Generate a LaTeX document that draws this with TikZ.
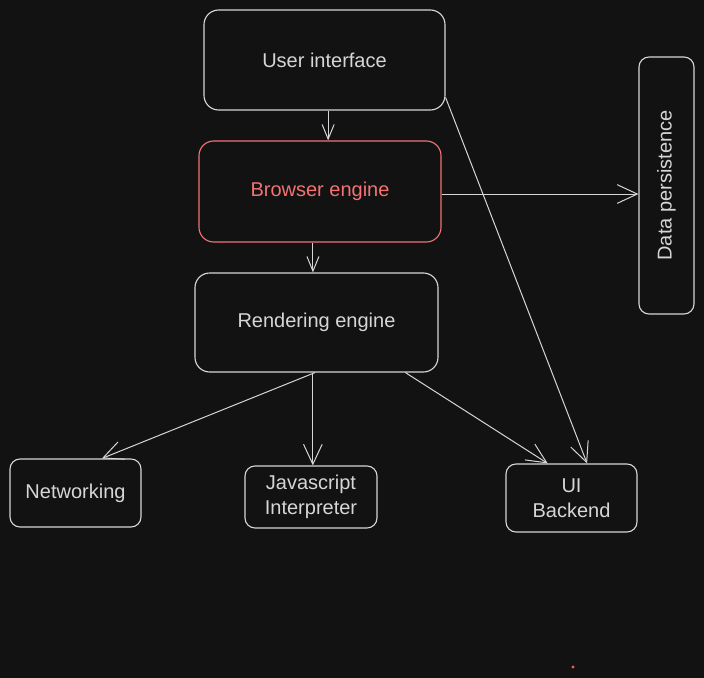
\documentclass[tikz,border=0pt]{standalone}
\usepackage{fontspec}
\setmainfont{Liberation Sans}
\usetikzlibrary{arrows.meta,calc}
\definecolor{bg}{HTML}{121212}
\definecolor{ink}{HTML}{D6D6D6}
\definecolor{redink}{HTML}{F47272}
\definecolor{dotc}{HTML}{E8634A}
\tikzset{
  box/.style={draw=ink, line width=0.85pt, text=ink, rounded corners=11pt, font=\fontsize{15}{19}\selectfont, align=center, inner sep=0pt},
  smallbox/.style={box, rounded corners=7.5pt},
  arr/.style={draw=ink, line width=0.75pt, -{Straight Barb[length=11pt,width=9pt,line width=0.75pt]}},
  arrbig/.style={draw=ink, line width=0.75pt, -{Straight Barb[length=15pt,width=14pt,line width=0.75pt]}},
}
\begin{document}
\begin{tikzpicture}[x=0.75pt,y=-0.75pt]
\fill[bg] (0,0) rectangle (704,678);
\useasboundingbox (0,0) rectangle (704,678);

\node[box, minimum width=180.75pt, minimum height=75pt] (ui) at (324.5,60) {User interface};
\node[box, draw=redink, text=redink, minimum width=181.5pt, minimum height=75.75pt] (be) at (320,191.5) {Browser engine};
\node[box, minimum width=182.25pt, minimum height=74.25pt] (re) at (316.5,322.5) {Rendering engine};
\node[box, rounded corners=7.5pt, minimum width=41.25pt, minimum height=192.75pt] (dp) at (666.5,185.5) {};
\node[text=ink, font=\fontsize{15}{19}\selectfont, rotate=90] (dpt) at (dp.center) {Data persistence};
\node[smallbox, minimum width=98.25pt, minimum height=51pt] (net) at (75.5,493) {Networking};
\node[smallbox, minimum width=99pt, minimum height=46.5pt] (js) at (311,497) {Javascript\\Interpreter};
\node[smallbox, minimum width=98.25pt, minimum height=51pt] (uib) at (571.5,498) {UI\\Backend};

% connection points
\coordinate (uiS) at ($(ui.south west)!0.515!(ui.south east)$);
\coordinate (beS) at ($(be.south west)!0.471!(be.south east)$);
\coordinate (dpW) at ($(dp.north west)!0.533!(dp.south west)$);
\coordinate (uiE) at ($(ui.north east)!0.87!(ui.south east)$);
\coordinate (reS1) at ($(re.south west)!0.494!(re.south east)$);
\coordinate (reS2) at ($(re.south west)!0.485!(re.south east)$);
\coordinate (reS3) at ($(re.south west)!0.864!(re.south east)$);
\coordinate (netN) at ($(net.north west)!0.70!(net.north east)$);
\coordinate (uibN1) at ($(uib.north west)!0.32!(uib.north east)$);
\coordinate (uibN2) at ($(uib.north west)!0.618!(uib.north east)$);

\draw[arr] (uiS) -- (uiS |- be.north);
\draw[arrbig] (be.east |- dpW) -- (dpW);
\draw[arr] (beS) -- (beS |- re.north);
\draw[arrbig] (uiE) -- (uibN2);
\draw[arrbig] (reS1) -- (netN);
\draw[arrbig] (reS2) -- (reS2 |- js.north);
\draw[arrbig] (reS3) -- (uibN1);

\fill[dotc] (573,667) circle (1.6);
\end{tikzpicture}
\end{document}
